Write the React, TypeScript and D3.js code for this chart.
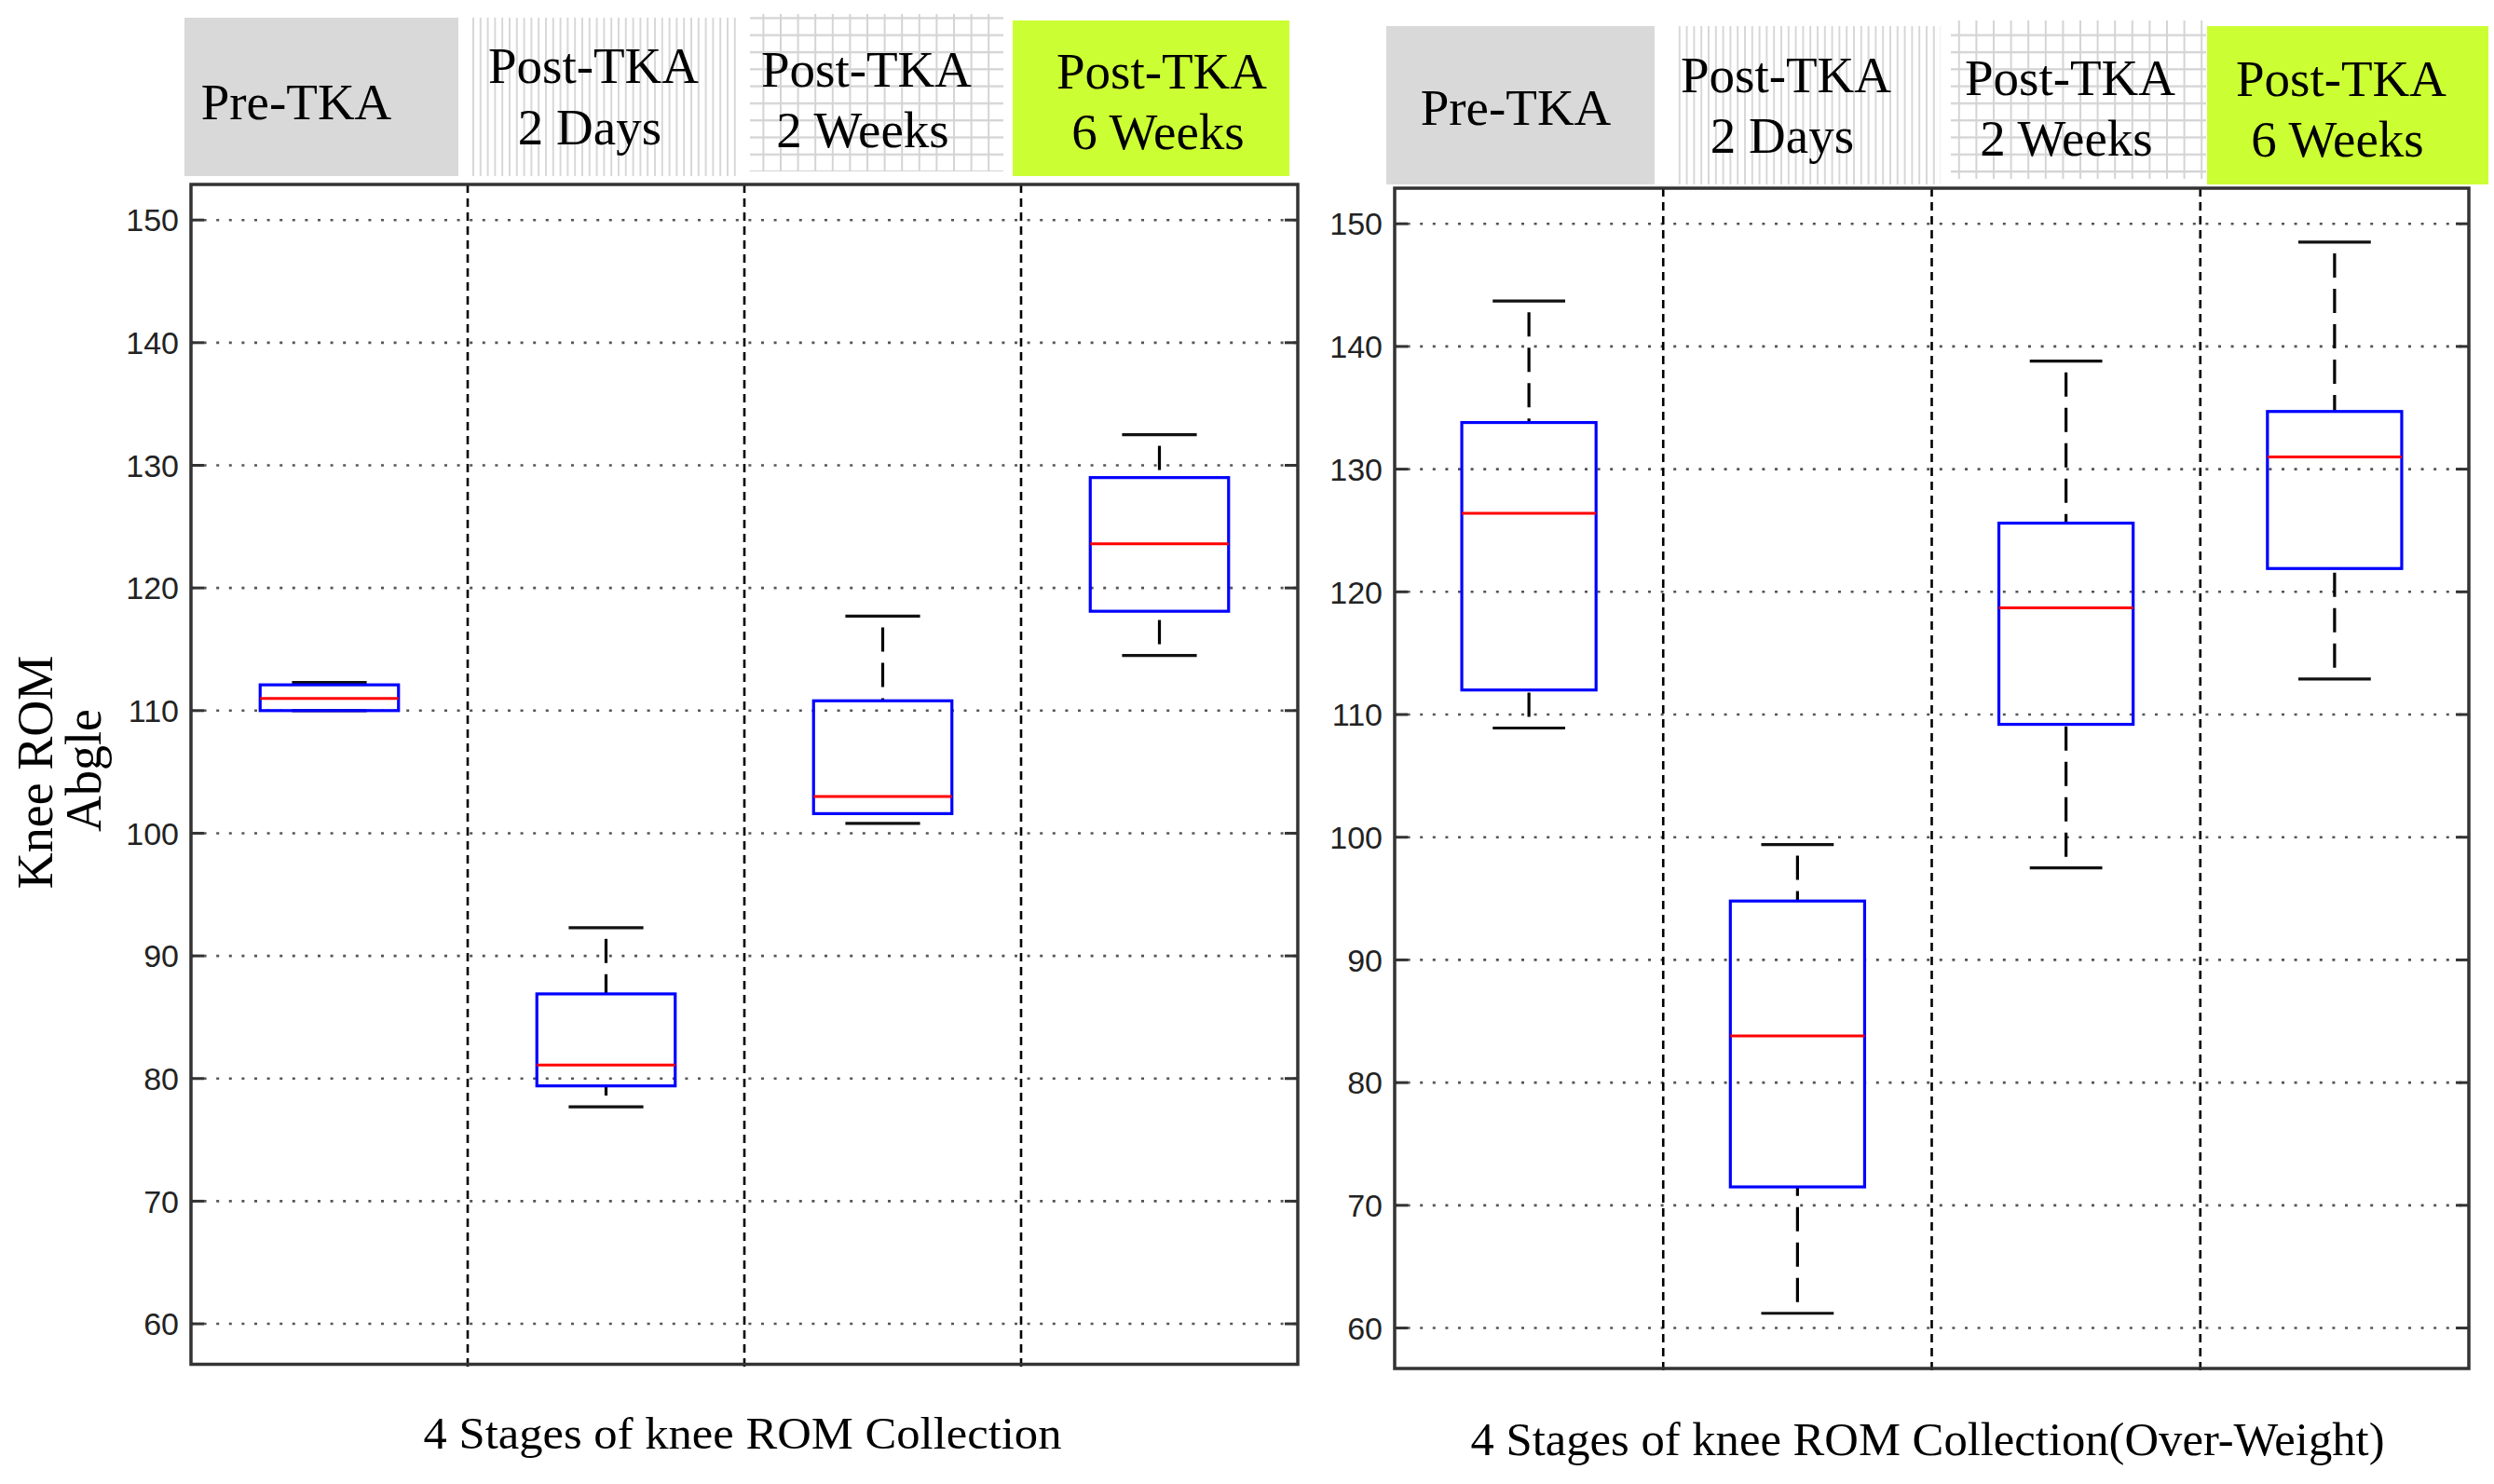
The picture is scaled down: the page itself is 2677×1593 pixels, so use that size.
import React, { useEffect } from "react";
import * as d3 from "d3";

// ---------- data ----------
const categories = ["Pre-TKA", "Post-TKA 2 Days", "Post-TKA 2 Weeks", "Post-TKA 6 Weeks"];
const headerLine1 = ["Pre-TKA", "Post-TKA", "Post-TKA", "Post-TKA"];
const headerLine2 = ["", "2 Days", "2 Weeks", "6 Weeks"];
const yTicks = [60, 70, 80, 90, 100, 110, 120, 130, 140, 150];
const yDomain = [56.7, 152.9];

// Left panel: all subjects
const allMin = [110.0, 77.7, 100.8, 114.5];
const allQ1 = [110.0, 79.4, 101.6, 118.1];
const allMedian = [111.0, 81.1, 103.0, 123.6];
const allQ3 = [112.1, 86.9, 110.8, 129.0];
const allMax = [112.3, 92.3, 117.7, 132.5];

// Right panel: over-weight subjects
const owMin = [108.9, 61.2, 97.5, 112.9];
const owQ1 = [112.0, 71.5, 109.2, 121.9];
const owMedian = [126.4, 83.8, 118.7, 131.0];
const owQ3 = [133.8, 94.8, 125.6, 134.7];
const owMax = [143.7, 99.4, 138.8, 148.5];

const xLabelLeft = "4 Stages of knee ROM Collection";
const xLabelRight = "4 Stages of knee ROM Collection(Over-Weight)";
const yLabelLines = ["Knee ROM", "Abgle"];

// ---------- styles / layout ----------
const SERIF = '"Liberation Serif", "Times New Roman", serif';
const SANS = '"Liberation Sans", Arial, Helvetica, sans-serif';
const headerFills = ["#d9d9d9", "url(#stripes)", "url(#gridpat)", "#ccff33"];

const leftLayout = {
  x0: 205, x1: 1393, y0: 198, y1: 1464.5,
  cellX: [198, 505, 805, 1087], cellW: [294, 286, 272, 297],
  cellY: [19, 19, 15, 22], cellH: [170, 170, 169, 167],
  textCx: [318, 637, 930, 1247],
  line1Base: [128, 89, 93, 95], line2Base: [0, 155, 158, 160],
  xLabelCx: 797, xLabelBase: 1555, xLabelSize: 48, xLabelLen: 685,
};
const rightLayout = {
  x0: 1497, x1: 2650, y0: 202, y1: 1469,
  cellX: [1488, 1799, 2094, 2369], cellW: [288, 284, 274, 302],
  cellY: [28, 28, 22, 28], cellH: [170, 170, 170, 170],
  textCx: [1627, 1917, 2222, 2513],
  line1Base: [134, 99, 102, 103], line2Base: [0, 164, 167, 168],
  xLabelCx: 2069, xLabelBase: 1562, xLabelSize: 50, xLabelLen: 981,
};

function Panel({ L, mins, q1s, meds, q3s, maxs, xLabel }: any) {
  const x = d3.scaleBand<string>().domain(categories).range([L.x0, L.x1]).padding(0);
  const y = d3.scaleLinear().domain(yDomain).range([L.y1, L.y0]);
  const bw = x.bandwidth();
  const boxHalf = bw * 0.25;
  const capHalf = bw * 0.135;
  const boundaries = categories.slice(1).map((c) => x(c) as number);

  return (
    <g>
      {/* header cells */}
      {categories.map((c, i) => (
        <g key={"h" + i}>
          <rect x={L.cellX[i]} y={L.cellY[i]} width={L.cellW[i]} height={L.cellH[i]} fill={headerFills[i]} />
          <text x={L.textCx[i]} y={L.line1Base[i]} textAnchor="middle" fontFamily={SERIF} fontSize={55} fill="#000">
            {headerLine1[i]}
          </text>
          {headerLine2[i] !== "" && (
            <text x={L.textCx[i] - 4} y={L.line2Base[i]} textAnchor="middle" fontFamily={SERIF} fontSize={55} fill="#000">
              {headerLine2[i]}
            </text>
          )}
        </g>
      ))}

      {/* white plot area */}
      <rect x={L.x0} y={L.y0} width={L.x1 - L.x0} height={L.y1 - L.y0} fill="#fff" />

      {/* horizontal dotted grid + ticks */}
      {yTicks.map((t) => (
        <g key={"g" + t}>
          <line x1={L.x0} x2={L.x1} y1={y(t)} y2={y(t)} stroke="#555" strokeWidth={2.6} strokeDasharray="3,10.6" />
          <line x1={L.x0} x2={L.x0 + 14} y1={y(t)} y2={y(t)} stroke="#333" strokeWidth={3} />
          <line x1={L.x1 - 14} x2={L.x1} y1={y(t)} y2={y(t)} stroke="#333" strokeWidth={3} />
          <text x={L.x0 - 13} y={y(t)} dy="0.36em" textAnchor="end" fontFamily={SANS} fontSize={34} fill="#222">
            {t}
          </text>
        </g>
      ))}

      {/* vertical dashed category boundaries */}
      {boundaries.map((bx, i) => (
        <line key={"v" + i} x1={bx} x2={bx} y1={L.y0} y2={L.y1 + 6} stroke="#000" strokeWidth={2.6} strokeDasharray="9,6" />
      ))}

      {/* frame */}
      <rect x={L.x0} y={L.y0} width={L.x1 - L.x0} height={L.y1 - L.y0} fill="none" stroke="#333" strokeWidth={3.5} />

      {/* boxes */}
      {categories.map((c, i) => {
        const cx = (x(c) as number) + bw / 2;
        return (
          <g key={"b" + i}>
            <line x1={cx} x2={cx} y1={y(maxs[i])} y2={y(q3s[i])} stroke="#000" strokeWidth={3.2}
              strokeDasharray="26,12" strokeDashoffset={26} />
            <line x1={cx} x2={cx} y1={y(mins[i])} y2={y(q1s[i])} stroke="#000" strokeWidth={3.2}
              strokeDasharray="26,12" strokeDashoffset={26} />
            <line x1={cx - capHalf} x2={cx + capHalf} y1={y(maxs[i])} y2={y(maxs[i])} stroke="#111" strokeWidth={3.2} />
            <line x1={cx - capHalf} x2={cx + capHalf} y1={y(mins[i])} y2={y(mins[i])} stroke="#111" strokeWidth={3.2} />
            <rect x={cx - boxHalf} y={y(q3s[i])} width={boxHalf * 2} height={y(q1s[i]) - y(q3s[i])}
              fill="none" stroke="#0000ff" strokeWidth={3.2} />
            <line x1={cx - boxHalf} x2={cx + boxHalf} y1={y(meds[i])} y2={y(meds[i])} stroke="#ff0000" strokeWidth={3} />
          </g>
        );
      })}

      {/* x label */}
      <text x={L.xLabelCx} y={L.xLabelBase} textAnchor="middle" fontFamily={SERIF} fontSize={L.xLabelSize}
        textLength={L.xLabelLen} lengthAdjust="spacingAndGlyphs" fill="#000">
        {xLabel}
      </text>
    </g>
  );
}

export default function App() {
  useEffect(() => {
    document.body.style.margin = "0";
  }, []);
  return (
    <svg width={2677} height={1593} style={{ display: "block", background: "#fff" }}>
      <defs>
        <pattern id="stripes" patternUnits="userSpaceOnUse" width={7.8} height={20}>
          <rect width={7.8} height={20} fill="#fff" />
          <line x1={1} x2={1} y1={0} y2={20} stroke="#cfcfcf" strokeWidth={1.6} />
        </pattern>
        <pattern id="gridpat" patternUnits="userSpaceOnUse" width={18.6} height={18.3}>
          <rect width={18.6} height={18.3} fill="#fff" />
          <line x1={1} x2={1} y1={0} y2={18.3} stroke="#d4d4d4" strokeWidth={2} />
          <line x1={0} x2={18.6} y1={1} y2={1} stroke="#d4d4d4" strokeWidth={2.6} />
        </pattern>
      </defs>
      <rect width={2677} height={1593} fill="#fff" />
      <Panel L={leftLayout} mins={allMin} q1s={allQ1} meds={allMedian} q3s={allQ3} maxs={allMax} xLabel={xLabelLeft} />
      <Panel L={rightLayout} mins={owMin} q1s={owQ1} meds={owMedian} q3s={owQ3} maxs={owMax} xLabel={xLabelRight} />
      {/* y-axis label */}
      <g transform="translate(56, 829) rotate(-90)">
        <text x={0} y={0} textAnchor="middle" fontFamily={SERIF} fontSize={54} fill="#000">{yLabelLines[0]}</text>
      </g>
      <g transform="translate(108, 827) rotate(-90)">
        <text x={0} y={0} textAnchor="middle" fontFamily={SERIF} fontSize={54} fill="#000">{yLabelLines[1]}</text>
      </g>
    </svg>
  );
}
